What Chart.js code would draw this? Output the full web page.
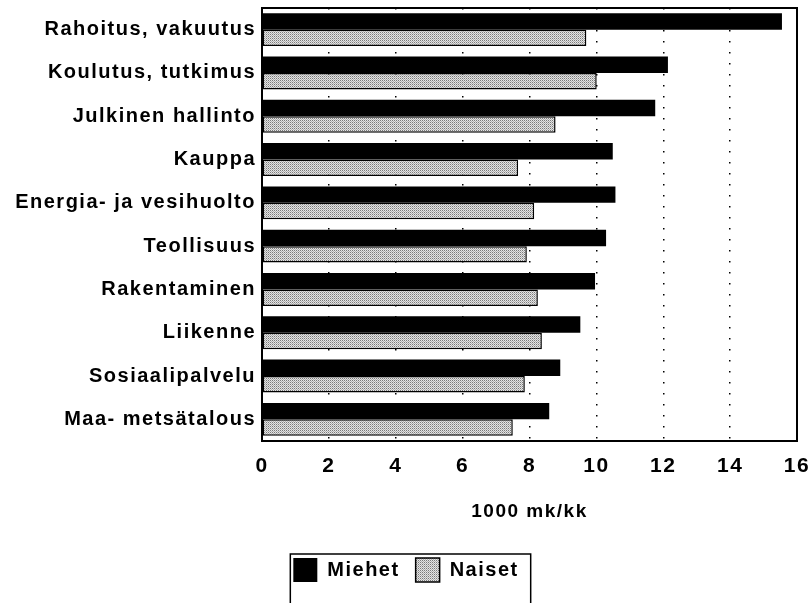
<!DOCTYPE html>
<html>
<head>
<meta charset="utf-8">
<script src="https://cdn.jsdelivr.net/npm/chart.js@4.4.1/dist/chart.umd.min.js"></script>
<style>
    html, body { margin: 0; padding: 0; background: #fff; }
    #wrap { width: 812px; height: 603px; position: relative; }
</style>
</head>
<body>
<div id="wrap"><canvas id="wageChart"></canvas></div>
<script>
// Chart data
const categories = [
    'Rahoitus, vakuutus',
    'Koulutus, tutkimus',
    'Julkinen hallinto',
    'Kauppa',
    'Energia- ja vesihuolto',
    'Teollisuus',
    'Rakentaminen',
    'Liikenne',
    'Sosiaalipalvelu',
    'Maa- metsätalous'
];
const miehet = [15.55, 12.14, 11.76, 10.49, 10.57, 10.29, 9.96, 9.52, 8.92, 8.59];
const naiset = [9.70, 10.01, 8.78, 7.66, 8.14, 7.92, 8.25, 8.37, 7.86, 7.50];
const xTicks = [0, 2, 4, 6, 8, 10, 12, 14, 16];
const axisTitle = '1000 mk/kk';

/**
 * Small stipple pattern for the grey bars
 */
function makeStipple(ctx) {
    const c = document.createElement('canvas');
    c.width = 2;
    c.height = 2;
    const p = c.getContext('2d');
    p.fillStyle = '#e4e4e4';
    p.fillRect(0, 0, 2, 2);
    p.fillStyle = '#7a7a7a';
    p.fillRect(0, 0, 1, 1);
    p.fillStyle = '#b0b0b0';
    p.fillRect(1, 1, 1, 1);
    return ctx.createPattern(c, 'repeat');
}

// The scanned lettering is wide, so space the letters out a bit
const spacingPlugin = {
    id: 'spacing',
    beforeLayout(chart) { chart.ctx.letterSpacing = '1.5px'; },
    beforeDraw(chart) { chart.ctx.letterSpacing = '1.5px'; }
};

// Frame round the plot and round the legend
const framePlugin = {
    id: 'frame',
    afterDraw(chart) {
        const ctx = chart.ctx;
        const a = chart.chartArea;
        ctx.save();
        ctx.strokeStyle = '#000';
        ctx.lineWidth = 2;
        ctx.strokeRect(a.left, a.top, a.right - a.left, a.bottom - a.top);

        const boxes = chart.legend.legendHitBoxes;
        if (boxes && boxes.length) {
            const first = boxes[0];
            const last = boxes[boxes.length - 1];
            const left = first.left - 3;
            const right = last.left + last.width + 12;
            const top = first.top - 4;
            ctx.lineWidth = 1.5;
            ctx.beginPath();
            ctx.moveTo(left, chart.height + 5);
            ctx.lineTo(left, top);
            ctx.lineTo(right, top);
            ctx.lineTo(right, chart.height + 5);
            ctx.stroke();
        }
        ctx.restore();
    }
};

function initChart() {
    const ctx = document.getElementById('wageChart').getContext('2d');
    const stipple = makeStipple(ctx);

    Chart.defaults.font.family = "'Liberation Sans', Arial, sans-serif";
    Chart.defaults.font.weight = 'bold';
    Chart.defaults.color = '#000';

    return new Chart(ctx, {
        type: 'bar',
        data: {
            labels: categories,
            datasets: [
                {
                    label: 'Miehet',
                    data: miehet,
                    backgroundColor: '#000',
                    borderColor: '#000',
                    borderWidth: 0,
                    categoryPercentage: 0.76,
                    barPercentage: 1.0
                },
                {
                    label: 'Naiset',
                    data: naiset,
                    backgroundColor: stipple,
                    borderColor: '#000',
                    borderWidth: 1.5,
                    borderSkipped: false,
                    categoryPercentage: 0.76,
                    barPercentage: 1.0
                }
            ]
        },
        options: {
            indexAxis: 'y',
            responsive: true,
            maintainAspectRatio: false,
            animation: false,
            layout: {
                padding: { top: 8, right: 15, left: 15, bottom: 11 }
            },
            plugins: {
                legend: {
                    display: true,
                    position: 'bottom',
                    labels: {
                        boxWidth: 24,
                        boxHeight: 24,
                        padding: 16,
                        color: '#000',
                        font: { size: 20, weight: 'bold' }
                    }
                },
                tooltip: { enabled: false }
            },
            scales: {
                x: {
                    min: 0,
                    max: 16,
                    afterBuildTicks(scale) {
                        scale.ticks = xTicks.map(v => ({ value: v }));
                    },
                    afterFit(scale) {
                        scale.height = 101;
                        scale.paddingLeft = 0;
                        scale.paddingRight = 0;
                    },
                    ticks: {
                        padding: 13,
                        font: { size: 21, weight: 'bold' },
                        color: '#000'
                    },
                    grid: {
                        color: '#000',
                        lineWidth: 1.5,
                        drawTicks: false
                    },
                    border: {
                        display: false,
                        dash: [1.5, 9.5]
                    },
                    title: {
                        display: true,
                        text: axisTitle,
                        font: { size: 19, weight: 'bold' },
                        color: '#000',
                        padding: { top: 4, bottom: 19 }
                    }
                },
                y: {
                    afterFit(scale) {
                        scale.width = 247;
                        scale.paddingTop = 0;
                        scale.paddingBottom = 0;
                    },
                    ticks: {
                        padding: 6,
                        font: { size: 20, weight: 'bold' },
                        color: '#000'
                    },
                    grid: {
                        display: false,
                        drawTicks: false
                    },
                    border: { display: false }
                }
            }
        },
        plugins: [spacingPlugin, framePlugin]
    });
}

initChart();
</script>
</body>
</html>
